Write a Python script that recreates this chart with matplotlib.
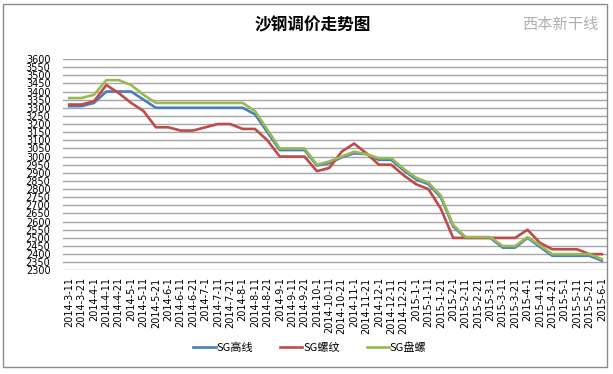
import matplotlib
matplotlib.use("Agg")
import matplotlib.pyplot as plt
from matplotlib.patches import Rectangle

# 日期标签（10天一期，缺 2014-11-11）
dates = [
    "2014-3-11", "2014-3-21", "2014-4-1", "2014-4-11", "2014-4-21", "2014-5-1",
    "2014-5-11", "2014-5-21", "2014-6-1", "2014-6-11", "2014-6-21", "2014-7-1",
    "2014-7-11", "2014-7-21", "2014-8-1", "2014-8-11", "2014-8-21", "2014-9-1",
    "2014-9-11", "2014-9-21", "2014-10-1", "2014-10-11", "2014-10-21", "2014-11-1",
    "2014-11-21", "2014-12-1", "2014-12-11", "2014-12-21", "2015-1-1", "2015-1-11",
    "2015-1-21", "2015-2-1", "2015-2-11", "2015-2-21", "2015-3-1", "2015-3-11",
    "2015-3-21", "2015-4-1", "2015-4-11", "2015-4-21", "2015-5-1", "2015-5-11",
    "2015-5-21", "2015-6-1",
]

sg_gaoxian = [
    3310, 3310, 3330, 3400, 3400, 3400, 3350, 3300, 3300, 3300, 3300,
    3300, 3300, 3300, 3300, 3260, 3150, 3040, 3040, 3040, 2945, 2960,
    2995, 3020, 3015, 2980, 2980, 2915, 2860, 2830, 2750, 2570, 2500,
    2500, 2500, 2440, 2440, 2500, 2445, 2390, 2390, 2390, 2390, 2360,
]
sg_luowen = [
    3320, 3320, 3340, 3440, 3390, 3330, 3280, 3180, 3180, 3160, 3160,
    3180, 3200, 3200, 3170, 3170, 3100, 3000, 3000, 3000, 2910, 2930,
    3030, 3080, 3020, 2950, 2950, 2885, 2830, 2800, 2680, 2500, 2500,
    2500, 2500, 2500, 2500, 2550, 2470, 2430, 2430, 2430, 2400, 2400,
]
sg_panluo = [
    3360, 3360, 3380, 3470, 3470, 3440, 3380, 3330, 3330, 3330, 3330,
    3330, 3330, 3330, 3330, 3280, 3165, 3050, 3050, 3050, 2950, 2970,
    3000, 3030, 3015, 2990, 2990, 2925, 2870, 2840, 2760, 2580, 2505,
    2505, 2505, 2450, 2450, 2505, 2455, 2400, 2400, 2400, 2400, 2370,
]

y_ticks = list(range(2300, 3601, 50))

W, H = 613, 374
fig = plt.figure(figsize=(W / 100, H / 100), dpi=100)
fig.patch.set_facecolor("white")

# 绘图区
ax = fig.add_axes([63 / W, 1 - 270.4 / H, 545 / W, (270.4 - 59) / H])
x = list(range(len(dates)))
ax.plot(x, sg_gaoxian, color="#4a7ebb", lw=1.9, label="SG高线", zorder=3)
ax.plot(x, sg_luowen, color="#be4b48", lw=1.9, label="SG螺纹", zorder=3)
ax.plot(x, sg_panluo, color="#98b954", lw=1.9, label="SG盘螺", zorder=3)

ax.set_xlim(-0.5, len(dates) - 0.5)
ax.set_ylim(2300, 3600)
ax.set_yticks(y_ticks)
ax.set_yticklabels([str(v) for v in y_ticks], fontsize=7, family="DejaVu Sans")
ax.set_xticks(x)
ax.set_xticklabels(dates, rotation=90, fontsize=7, family="DejaVu Sans")
ax.tick_params(axis="y", length=0, pad=9)
ax.tick_params(axis="x", length=0, pad=5)
ax.grid(axis="y", color="#a6a6a6", lw=1.0)
ax.set_axisbelow(True)
for s in ax.spines.values():
    s.set_visible(False)

cjk = ["Noto Sans CJK SC", "DejaVu Sans"]
fig.text(313 / W, 1 - 25 / H, "沙钢调价走势图", ha="center", va="center",
         fontsize=12, fontweight="bold", family=cjk)
fig.text(560 / W, 1 - 25 / H, "西本新干线", ha="center", va="center",
         fontsize=11, color="#b0b0b0", style="italic", family=cjk)

leg = fig.legend(loc="center", bbox_to_anchor=(310 / W, 1 - 348 / H), ncol=3,
                 frameon=False, handlelength=2.0, handletextpad=0.1,
                 columnspacing=2.4, prop={"family": cjk, "size": 8})

# 图表外框
fig.patches.append(Rectangle((3 / W, 1 - 367 / H), 604 / W, 363 / H,
                             transform=fig.transFigure, fill=False,
                             edgecolor="#8c8c8c", lw=1.0, zorder=10))

fig.savefig("out.png", dpi=100)
